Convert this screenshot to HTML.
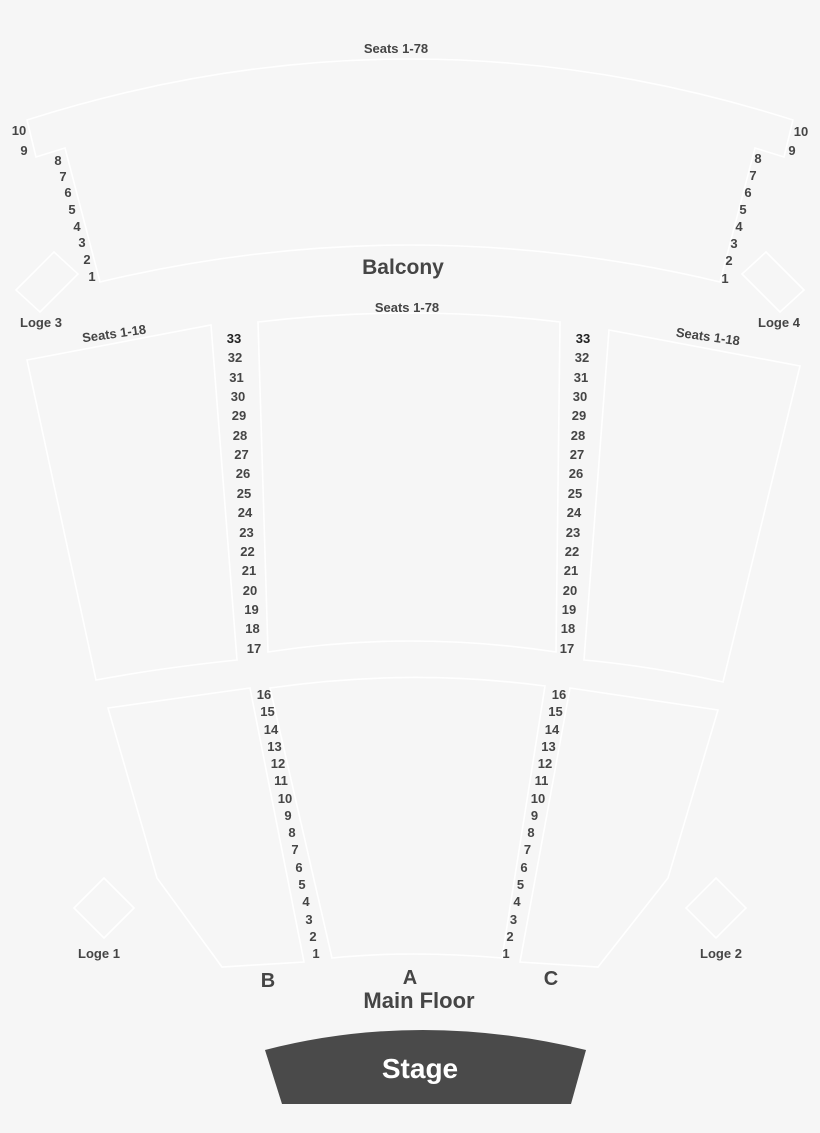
<!DOCTYPE html>
<html><head><meta charset="utf-8"><style>
html,body{margin:0;padding:0;background:#f6f6f6;}
svg{display:block}
text{font-family:"Liberation Sans",sans-serif;font-weight:bold;fill:#454545;text-anchor:middle}
.n{font-size:13px}
</style></head><body>
<svg width="820" height="1133" viewBox="0 0 820 1133">
<rect width="820" height="1133" fill="#f6f6f6"/>
<g fill="none" stroke="#ffffff" stroke-width="1.6">
<path d="M27,120 Q410,-2 793,120 L784,157 L755,148 L720,282 Q410,208 100,282 L65,148 L36,157 Z"/>
<path d="M54,252 L78,274 L40,312 L16,290 Z"/>
<path d="M766,252 L804,290 L780,312 L742,274 Z"/>
<path d="M258,322 Q410,304 560,322 L556,652 Q410,630 268,652 Z"/>
<path d="M27,360 L211,325 L237,660 Q160,668 96,680 Z"/>
<path d="M609,330 L800,366 L723,682 Q650,666 584,660 Z"/>
<path d="M108,708 L250,688 L304,962 L222,967 L157,878 Z"/>
<path d="M270,688 Q410,668 545,686 L502,958 Q410,950 332,958 Z"/>
<path d="M570,688 L718,710 L668,878 L598,967 L520,962 Z"/>
<path d="M104,878 L134,908 L104,938 L74,908 Z"/>
<path d="M716,878 L746,908 L716,938 L686,908 Z"/>
</g>
<path d="M265,1050 Q420,1010 586,1050 L571,1104 L282,1104 Z" fill="#4a4a4a"/>
<text x="420" y="1078" style="font-size:28px;fill:#fff">Stage</text>
<text x="396" y="53" class="n">Seats 1-78</text>
<text x="407" y="312" class="n">Seats 1-78</text>
<text x="403" y="274" style="font-size:21px">Balcony</text>
<text x="114" y="338" class="n" transform="rotate(-8 114 333)">Seats 1-18</text>
<text x="708" y="341" class="n" transform="rotate(8 708 336)">Seats 1-18</text>
<text x="41" y="327" class="n">Loge 3</text>
<text x="779" y="327" class="n">Loge 4</text>
<text x="99" y="958" class="n">Loge 1</text>
<text x="721" y="958" class="n">Loge 2</text>
<text x="268" y="987" style="font-size:20px">B</text>
<text x="410" y="984" style="font-size:20px">A</text>
<text x="551" y="985" style="font-size:20px">C</text>
<text x="419" y="1008" style="font-size:22px">Main Floor</text>
<g class="n">
<text x="19" y="135" class="n">10</text><text x="24" y="155" class="n">9</text>
<text x="58" y="165" class="n">8</text><text x="63" y="181" class="n">7</text>
<text x="68" y="197" class="n">6</text><text x="72" y="214" class="n">5</text>
<text x="77" y="231" class="n">4</text><text x="82" y="247" class="n">3</text>
<text x="87" y="264" class="n">2</text><text x="92" y="281" class="n">1</text>
<text x="801" y="136" class="n">10</text><text x="792" y="155" class="n">9</text>
<text x="758" y="163" class="n">8</text><text x="753" y="180" class="n">7</text>
<text x="748" y="197" class="n">6</text><text x="743" y="214" class="n">5</text>
<text x="739" y="231" class="n">4</text><text x="734" y="248" class="n">3</text>
<text x="729" y="265" class="n">2</text><text x="725" y="283" class="n">1</text>

<text x="234" y="343" class="n" style="fill:#222">33</text><text x="235" y="362" class="n">32</text>
<text x="236.5" y="382" class="n">31</text><text x="238" y="401" class="n">30</text>
<text x="239" y="420" class="n">29</text><text x="240" y="440" class="n">28</text>
<text x="241.5" y="459" class="n">27</text><text x="243" y="478" class="n">26</text>
<text x="244" y="498" class="n">25</text><text x="245" y="517" class="n">24</text>
<text x="246.5" y="537" class="n">23</text><text x="247.5" y="556" class="n">22</text>
<text x="249" y="575" class="n">21</text><text x="250" y="595" class="n">20</text>
<text x="251.5" y="614" class="n">19</text><text x="252.5" y="633" class="n">18</text>
<text x="254" y="653" class="n">17</text>

<text x="583" y="343" class="n" style="fill:#222">33</text><text x="582" y="362" class="n">32</text>
<text x="581" y="382" class="n">31</text><text x="580" y="401" class="n">30</text>
<text x="579" y="420" class="n">29</text><text x="578" y="440" class="n">28</text>
<text x="577" y="459" class="n">27</text><text x="576" y="478" class="n">26</text>
<text x="575" y="498" class="n">25</text><text x="574" y="517" class="n">24</text>
<text x="573" y="537" class="n">23</text><text x="572" y="556" class="n">22</text>
<text x="571" y="575" class="n">21</text><text x="570" y="595" class="n">20</text>
<text x="569" y="614" class="n">19</text><text x="568" y="633" class="n">18</text>
<text x="567" y="653" class="n">17</text>

<text x="264" y="699" class="n">16</text><text x="267.5" y="716" class="n">15</text>
<text x="271" y="734" class="n">14</text><text x="274.5" y="751" class="n">13</text>
<text x="278" y="768" class="n">12</text><text x="281" y="785" class="n">11</text>
<text x="285" y="803" class="n">10</text><text x="288" y="820" class="n">9</text>
<text x="292" y="837" class="n">8</text><text x="295" y="854" class="n">7</text>
<text x="299" y="872" class="n">6</text><text x="302" y="889" class="n">5</text>
<text x="306" y="906" class="n">4</text><text x="309" y="924" class="n">3</text>
<text x="313" y="941" class="n">2</text><text x="316" y="958" class="n">1</text>

<text x="559" y="699" class="n">16</text><text x="555.5" y="716" class="n">15</text>
<text x="552" y="734" class="n">14</text><text x="548.5" y="751" class="n">13</text>
<text x="545" y="768" class="n">12</text><text x="541.5" y="785" class="n">11</text>
<text x="538" y="803" class="n">10</text><text x="534.5" y="820" class="n">9</text>
<text x="531" y="837" class="n">8</text><text x="527.5" y="854" class="n">7</text>
<text x="524" y="872" class="n">6</text><text x="520.5" y="889" class="n">5</text>
<text x="517" y="906" class="n">4</text><text x="513.5" y="924" class="n">3</text>
<text x="510" y="941" class="n">2</text><text x="506" y="958" class="n">1</text>
</g>
</svg>
</body></html>
